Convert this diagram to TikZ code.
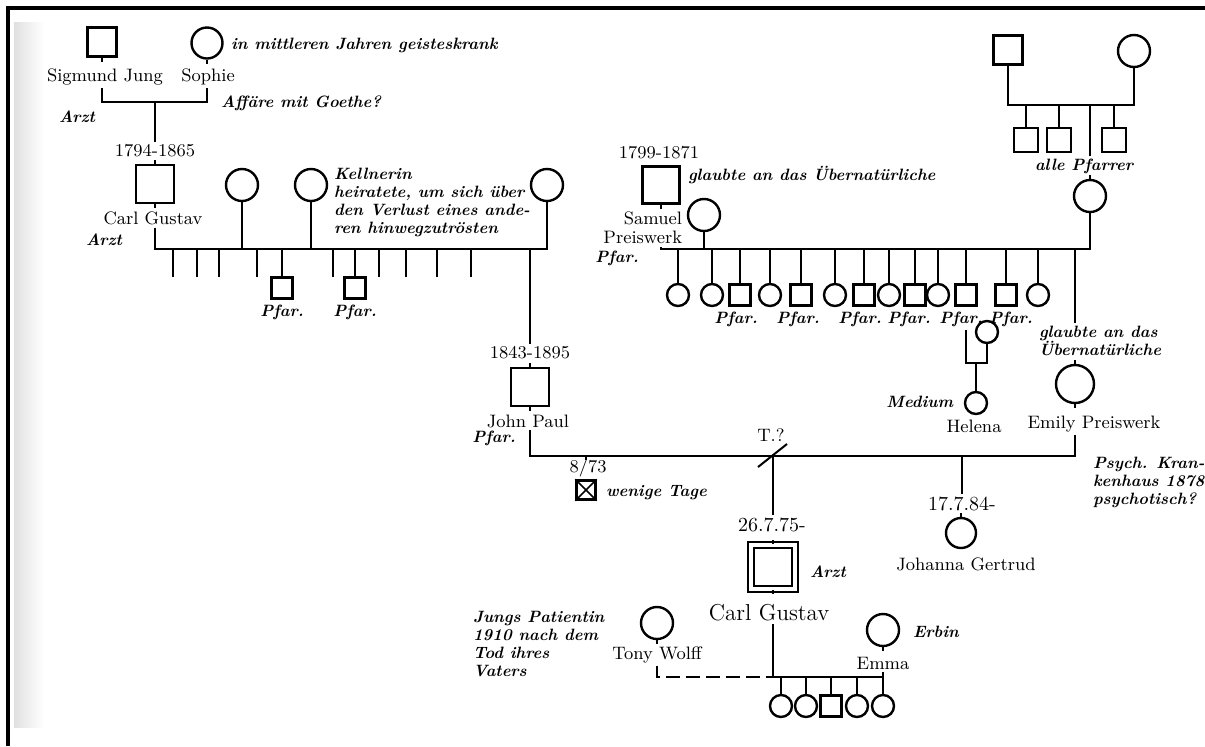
\documentclass[tikz,border=0pt]{standalone}
\usepackage{tikz}

\begin{document}
\begin{tikzpicture}[
  x=0.5pt, y=-0.5pt,
  line width=1pt,
  nm/.style={font=\fontsize{9}{9.5}\selectfont, inner sep=1pt},
  dt/.style={font=\fontsize{10}{11}\selectfont, inner sep=1pt},
  an/.style={font=\fontsize{8.2}{9}\selectfont\bfseries\itshape, inner sep=1pt},
  male/.style={draw, rectangle, line width=1.2pt, inner sep=0pt, minimum size=#1},
  fem/.style={draw, circle, line width=1.2pt, inner sep=0pt, minimum size=#1},
  kidm/.style={male=10.5pt},
  kidf/.style={fem=11pt},
]
\useasboundingbox (0,0) rectangle (1205,746);
% scan frame and page shadow
\shade[left color=black!12, right color=white] (14,22) rectangle (44,727);
\draw[line width=1.6pt] (8,746) -- (8,8) -- (1205,8);

% --- Jung grandparents
\node[male=14.5pt] (sj) at (102,42) {};
\node[fem=15.5pt] (so) at (207,43) {};
\node[nm] (sjl) at (105,77) {Sigmund Jung};
\node[nm] (sol) at (208,77) {Sophie};
\node[an, anchor=west] at (228,45) {in mittleren Jahren geisteskrank};
\node[an] at (77,117) {Arzt};
\node[an, anchor=west] at (218,103) {Affäre mit Goethe?};
\coordinate (c1) at (155,102);
\draw (sj |- sjl.south) |- (c1) -| (so |- sol.south);

% --- Carl Gustav sen. and his wives
\node[nm] (cgd) at (155,151) {1794-1865};
\node[male=19pt] (cg) at (155,184) {};
\node[nm] (cgl) at (153,218) {Carl Gustav};
\node[an] at (104,240) {Arzt};
\draw (c1) -- (cgd.north);
\coordinate (busL) at (0,249);
\node[fem=16pt] (w1) at (242,185) {};
\node[fem=16pt] (w2) at (311,185) {};
\node[fem=16pt] (w3) at (547,185) {};
\draw (cg |- cgl.south) |- (w3 |- busL) -- (w3.south);
\draw (w1.south) -- (w1 |- busL);
\draw (w2.south) -- (w2 |- busL);
\node[an, anchor=north west, align=left] at (331,165)
  {Kellnerin\\heiratete, um sich über\\den Verlust eines ande-\\ren hinwegzutrösten};
\foreach \x in {173,197,219,257,333,379,406,437,471}
  \draw (\x,249) -- (\x,277);
\node[kidm] (k1) at (282,288) {};
\node[kidm] (k2) at (355,288) {};
\draw (k1.north) -- (k1 |- busL);
\draw (k2.north) -- (k2 |- busL);
\node[an, below=1pt] at (k1.south) {Pfar.};
\node[an, below=1pt] at (k2.south) {Pfar.};

% --- John Paul
\node[nm] (jpd) at (530,353) {1843-1895};
\node[male=19pt] (jp) at (530,387) {};
\node[nm] (jpl) at (528,421) {John Paul};
\node[an] at (494,438) {Pfar.};
\draw (jp |- busL) -- (jp |- jpd.north);

% --- Preiswerk grandparents (top right)
\node[male=14.5pt] (pm) at (1008,50) {};
\node[fem=16pt] (pf) at (1134,51) {};
\coordinate (tr) at (0,105);
\draw (pm.south) |- (pf |- tr) -- (pf.south);
\foreach \x [count=\i] in {1026,1059,1114}{
  \node[male=12pt] (pb\i) at (\x,140) {};
  \draw (pb\i.north) -- (pb\i |- tr);
}
\node[an] (ap) at (1084,166) {alle Pfarrer};
\node[fem=16pt] (em0) at (1090,196) {};
\draw (em0 |- tr) -- (em0 |- ap.north);

% --- Samuel Preiswerk
\node[nm] (spd) at (659,153) {1799-1871};
\node[male=18.5pt] (sp) at (661,185) {};
\node[an, anchor=west] at (685,175) {glaubte an das Übernatürliche};
\node[fem=16pt] (spw) at (704,215) {};
\node[nm, align=right, anchor=east] (spl) at (685,228) {Samuel\\Preiswerk};
\node[an] at (617,258) {Pfar.};
\coordinate (busR) at (0,249);
\draw (sp |- spl.south) |- (em0 |- busR) -- (em0.south);
\draw (spw.south) -- (spw |- busR);
\foreach \x/\k [count=\i] in {678/kidf,712/kidf,740/kidm,770/kidf,801/kidm,835/kidf,
    864/kidm,889/kidf,915/kidm,938/kidf,966/kidm,1006/kidm,1038/kidf}{
  \node[\k] (s\i) at (\x,295) {};
  \draw (s\i.north) -- (s\i |- busR);
}
\foreach \i/\dx in {3/-4,5/-3,7/-4,9/-6,11/-5,12/5}
  \node[an, below=1pt, xshift=\dx*0.5pt] (pf\i) at (s\i.south) {Pfar.};

% --- Helena
\node[fem=11pt] (hm) at (987,332) {};
\coordinate (hj) at (976,363);
\draw (s11 |- pf11.south) |- (hm |- hj) -- (hm.south);
\node[fem=11pt] (he) at (976,403) {};
\draw (hj) -- (he.north);
\node[an, anchor=east] at (956,402) {Medium};
\node[nm] (hel) at (974,426) {Helena};

% --- Emily Preiswerk
\node[an, anchor=north west, align=left] (eg) at (1036,323) {glaubte an das\\Übernatürliche};
\draw (em0 |- busR) ++(-15,0) coordinate (ed) -- (ed |- eg.north);
\node[fem=19pt] (em) at (1075,384) {};
\node[nm] (eml) at (1094,424) {Emily Preiswerk};
\node[an, anchor=north west, align=left] at (1090,454)
  {Psych. Kran-\\kenhaus 1878\\psychotisch?};

% --- marriage John Paul / Emily
\coordinate (mline) at (0,456);
\coordinate (tz) at (773,456);
\draw (jp |- jpl.south) |- (em |- mline) -- (em |- eml.south);
\draw ([shift={(-15,11)}]tz) -- ([shift={(14,-12)}]tz);
\node[nm] at (771,435) {T.?};
\node[male=9.5pt] (d) at (586,490) {};
\draw[line width=0.8pt] (d.north west) -- (d.south east) (d.north east) -- (d.south west);
\draw (d |- mline) -- ++(0,4);
\node[nm] at (588,468) {8/73};
\node[an, anchor=west] at (603,493) {wenige Tage};

% --- Johanna Gertrud
\node[dt] (jgd) at (962,504) {17.7.84-};
\node[fem=15pt] (jg) at (961,533) {};
\node[nm] at (966,564) {Johanna Gertrud};
\draw (jgd |- mline) -- (jgd.north);

% --- Carl Gustav
\node[dt] (cjd) at (772,525) {26.7.75-};
\node[draw, double, double distance=2.2pt, line width=1.1pt, minimum size=22pt,
  inner sep=0pt] (cj) at (773,567) {};
\node[an, anchor=west] at (807,572) {Arzt};
\node[font=\fontsize{11.5}{12}\selectfont, inner sep=1pt] (cjl) at (769,613) {Carl Gustav};
\draw (tz) -- (tz |- cjd.north);
\coordinate (kl) at (0,677);
\draw (cj |- cjl.south) -- (cj |- kl);

% --- Tony Wolff and Emma
\node[fem=16pt] (tw) at (657,623) {};
\node[nm] (twl) at (657,655) {Tony Wolff};
\node[an, anchor=north west, align=left] at (470,608)
  {Jungs Patientin\\1910 nach dem\\Tod ihres\\Vaters};
\draw[dash pattern=on 7pt off 3pt] (tw |- twl.south) |- (cj |- kl);
\node[fem=16pt] (emm) at (883,630) {};
\node[nm] (emml) at (883,663) {Emma};
\node[an, anchor=west] at (910,632) {Erbin};
\draw (cj |- kl) -| (emm |- emml.south);
\foreach \x/\k [count=\i] in {781/kidf,806/kidf,831/kidm,857/kidf,883/kidf}{
  \node[\k] (c\i) at (\x,706) {};
  \draw (c\i.north) -- (c\i |- kl);
}

% stubs where a line runs on under a name
\foreach \n in {sj,so,cg,jp,sp,tw,emm,em,cj}
  \draw (\n.south) -- ++(0,4);
\foreach \n in {cg,jp,cj,em,em0,jg}
  \draw (\n.north) -- ++(0,-4);
\end{tikzpicture}
\end{document}
